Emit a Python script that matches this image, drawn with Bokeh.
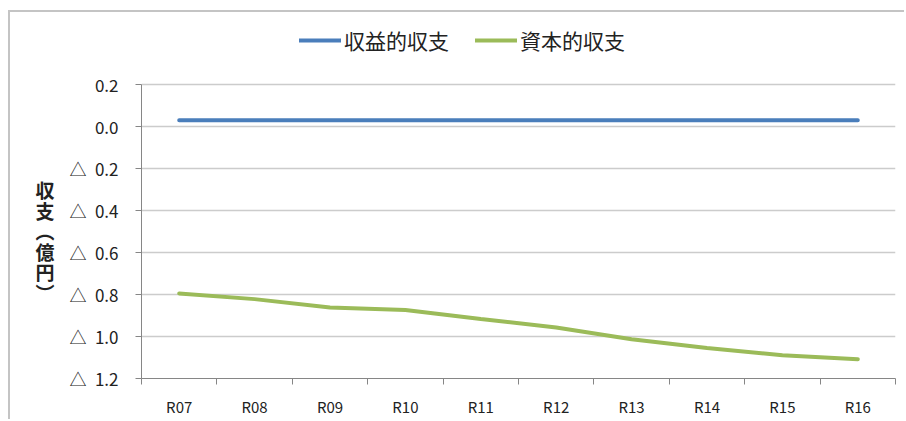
from bokeh.plotting import figure
from bokeh.models import (ColumnDataSource, FixedTicker, Legend, LegendItem,
                          CustomJSTickFormatter, Range1d)
from bokeh.embed import file_html
from bokeh.resources import INLINE

categories = ["R07", "R08", "R09", "R10", "R11", "R12", "R13", "R14", "R15", "R16"]
income = [0.03, 0.03, 0.03, 0.03, 0.03, 0.03, 0.03, 0.03, 0.03, 0.03]
capital = [-0.795, -0.822, -0.862, -0.874, -0.917, -0.957, -1.013, -1.055, -1.089, -1.108]
series_names = ["収益的収支", "資本的収支"]
y_ticks = [-1.2, -1.0, -0.8, -0.6, -0.4, -0.2, 0.0, 0.2]
y_title = "収\n支\n︵\n億\n円\n︶"

FONT = "Noto Sans CJK JP"
xpos = [i + 0.5 for i in range(len(categories))]
src = ColumnDataSource(dict(x=xpos, income=income, capital=capital, cat=categories))

# extra headroom above 0.2 hosts the legend (axis line is bounded to -1.2..0.2)
p = figure(width=896, height=409, output_backend="svg", toolbar_location=None,
           x_range=Range1d(0, len(categories)), y_range=Range1d(-1.2, 0.5),
           min_border_left=131, min_border_right=11, min_border_top=9,
           min_border_bottom=43)
p.styles = {"margin-left": "8px", "margin-top": "10px",
            "border-left": "2px solid #c4c4c4", "border-top": "2px solid #c4c4c4"}
p.outline_line_color = None
p.background_fill_color = "white"
p.border_fill_color = "white"

r1 = p.line("x", "income", source=src, line_color="#4A7EBB", line_width=4, line_cap="round")
r2 = p.line("x", "capital", source=src, line_color="#9BBB59", line_width=4, line_cap="round")

# x axis: labels at category centers, ticks at category boundaries
xa = p.xaxis[0]
xa.ticker = FixedTicker(ticks=xpos, minor_ticks=list(range(len(categories) + 1)))
xa.major_label_overrides = {x: c for x, c in zip(xpos, categories)}
xa.major_tick_out = 0
xa.major_tick_in = 0
xa.minor_tick_out = 6
xa.minor_tick_in = 0
xa.minor_tick_line_color = "#868686"
xa.axis_line_color = "#868686"
xa.major_label_text_font = FONT
xa.major_label_text_font_size = "15px"
xa.major_label_text_color = "#222222"
xa.major_label_standoff = 11

ya = p.yaxis[0]
ya.bounds = (-1.2, 0.2)
ya.ticker = FixedTicker(ticks=y_ticks, minor_ticks=[])
ya.formatter = CustomJSTickFormatter(code="""
const v = Math.round(tick * 10) / 10;
if (v >= -0.001) { return Math.abs(v).toFixed(1); }
return '\u25B3\u2002' + (-v).toFixed(1);
""")
ya.major_tick_out = 6
ya.major_tick_in = 0
ya.major_tick_line_color = "#868686"
ya.axis_line_color = "#868686"
ya.major_label_text_font = FONT
ya.major_label_text_font_size = "17px"
ya.major_label_text_color = "#222222"
ya.major_label_standoff = 17
# leading blank lines move the stacked title down to sit beside the -0.2..-0.8 ticks
ya.axis_label = "\n\n\n\n" + y_title
ya.axis_label_orientation = "horizontal"
ya.axis_label_text_font = FONT
ya.axis_label_text_font_size = "19px"
ya.axis_label_text_font_style = "bold"
ya.axis_label_text_color = "#222222"
ya.axis_label_text_line_height = 0.76
ya.axis_label_standoff = 12

p.xgrid.grid_line_color = None
p.ygrid.ticker = FixedTicker(ticks=y_ticks)
p.ygrid.grid_line_color = "#cccccc"
p.ygrid.grid_line_width = 1.5

legend = Legend(items=[LegendItem(label=series_names[0], renderers=[r1]),
                       LegendItem(label=series_names[1], renderers=[r2])],
                location=(158, 323), orientation="horizontal",
                border_line_color=None, background_fill_alpha=0,
                label_text_font=FONT, label_text_font_size="21px",
                label_text_color="#222222", glyph_width=42, glyph_height=20,
                label_standoff=3, spacing=26, padding=0, margin=0)
p.add_layout(legend, "center")

open("out.html", "w").write(file_html(p, INLINE))
